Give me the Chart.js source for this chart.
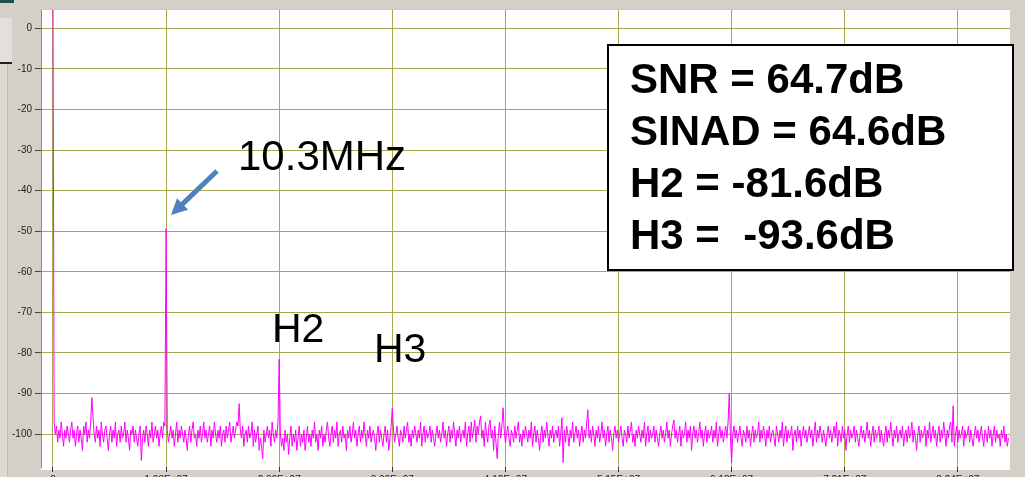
<!DOCTYPE html>
<html>
<head>
<meta charset="utf-8">
<title>FFT</title>
<script src="https://cdn.jsdelivr.net/npm/chart.js@4.4.1/dist/chart.umd.min.js"></script>
<style>
    html, body { margin: 0; padding: 0; background: #d4d0c8; }
    #wrap { position: relative; width: 1025px; height: 477px; overflow: hidden; }
    #wrap canvas { position: absolute; left: 0; top: 0; }
    .win-bar { position: absolute; left: 0; top: 0; width: 14px; height: 3px; background: #1f4f4f; }
    .win-tab { position: absolute; left: 0; top: 18px; width: 12px; height: 44px; background: #e2e0da; border-bottom: 2px solid #202020; }
    .win-strip { position: absolute; left: 0; top: 64px; width: 7px; height: 413px; background: #dcd9d2; border-right: 1px solid #bdb9b0; }
</style>
</head>
<body>
<div id="wrap">
    <div class="win-bar"></div>
    <div class="win-tab"></div>
    <div class="win-strip"></div>
    <canvas id="fftChart"></canvas>
</div>
<script>
// one FFT bin = 1/96 of the 10.3 MHz grid step
var binMHz = 10.3 / 96;

// noise floor per bin (dBFS), bins 0..811
var noiseDb = [
    -98, -97, -100, -98, -102, -99, -101, -97, -100, -103, -99, -101, -98, -100, -102, -99,
    -97, -101, -99, -103, -100, -98, -102, -99, -101, -104, -98, -100, -97, -102, -99, -101,
    -97, -91, -96, -100, -102, -98, -101, -99, -103, -97, -100, -102, -99, -98, -101, -104,
    -100, -98, -102, -99, -101, -97, -103, -100, -99, -102, -98, -101, -100, -97, -102, -99,
    -101, -104, -99, -100, -98, -102, -99, -101, -103, -100, -98, -106.5, -101, -99, -102, -98,
    -100, -103, -99, -101, -97, -102, -100, -98, -101, -99, -103, -100, -98, -101, -97, -98,
    -97, -99, -102, -100, -98, -101, -99, -103, -100, -97, -102, -99, -101, -98, -100, -102,
    -99, -101, -104, -100, -98, -102, -99, -97, -101, -100, -103, -99, -101, -98, -102, -100,
    -97, -101, -99, -102, -100, -98, -103, -99, -101, -97, -100, -102, -99, -101, -98, -103,
    -100, -99, -102, -98, -101, -99, -97, -102, -100, -98, -101, -99, -97, -98, -92.5, -99,
    -101, -98, -103, -100, -99, -102, -98, -101, -100, -97, -103, -99, -102, -100, -98, -104,
    -101, -103, -106, -99, -102, -100, -98, -101, -99, -103, -97, -100, -102, -99, -101, -97,
    -98, -100, -103, -101, -104, -99, -102, -100, -105, -101, -98, -103, -100, -102, -99, -104,
    -101, -98, -103, -100, -102, -99, -104, -101, -98, -102, -100, -103, -99, -101, -97, -102,
    -100, -104, -99, -101, -98, -103, -100, -102, -99, -97, -101, -103, -100, -98, -102, -99,
    -101, -97, -103, -100, -99, -102, -98, -101, -100, -104, -99, -101, -98, -102, -100, -97,
    -101, -99, -103, -100, -98, -102, -99, -101, -97, -100, -103, -99, -101, -98, -102, -100,
    -99, -101, -104, -100, -98, -102, -99, -101, -103, -100, -98, -102, -99, -104, -101, -98,
    -97, -99, -102, -100, -98, -101, -103, -99, -100, -102, -98, -101, -99, -97, -102, -100,
    -103, -99, -101, -98, -100, -102, -99, -101, -97, -103, -100, -98, -102, -99, -101, -100,
    -98, -102, -99, -101, -103, -100, -98, -101, -99, -102, -100, -97, -101, -99, -103, -100,
    -98, -102, -99, -101, -97, -100, -103, -99, -101, -98, -102, -100, -99, -101, -97, -103,
    -100, -98, -102, -97, -101, -99, -96.5, -102, -98, -100, -97, -95.5, -101, -99, -103, -97,
    -100, -102, -98, -96.5, -101, -99, -104, -98, -102, -106, -100, -97, -101, -98, -93.5, -99,
    -102, -100, -98, -101, -103, -99, -100, -102, -98, -101, -99, -97, -102, -100, -103, -99,
    -101, -98, -100, -102, -99, -101, -97, -103, -100, -98, -102, -99, -101, -104, -100, -98,
    -102, -99, -101, -97, -100, -103, -99, -101, -98, -102, -100, -99, -101, -98, -103, -100,
    -96, -107, -99, -102, -98, -100, -103, -99, -101, -97, -102, -100, -98, -101, -99, -103,
    -100, -98, -102, -99, -101, -97, -94, -101, -99, -102, -98, -100, -103, -99, -101, -98,
    -102, -100, -97, -101, -99, -103, -100, -98, -102, -99, -101, -104, -100, -98, -101, -99,
    -102, -100, -98, -101, -103, -99, -100, -102, -98, -101, -99, -97, -102, -100, -103, -99,
    -101, -98, -100, -102, -99, -101, -97, -103, -100, -98, -102, -99, -101, -100, -98, -102,
    -99, -101, -103, -100, -98, -101, -99, -102, -100, -97, -101, -99, -103, -100, -98, -96.5,
    -101, -99, -102, -100, -98, -103, -99, -101, -100, -97, -102, -99, -101, -98, -104, -100,
    -98, -101, -99, -102, -100, -97, -101, -99, -103, -100, -98, -102, -99, -101, -100, -98,
    -102, -99, -101, -97, -103, -100, -98, -101, -99, -102, -100, -98, -101, -97, -90, -101,
    -107, -100, -98, -101, -99, -102, -100, -98, -101, -103, -99, -100, -102, -98, -101, -99,
    -103, -100, -98, -102, -99, -101, -100, -97, -102, -99, -101, -98, -100, -103, -99, -101,
    -98, -102, -100, -99, -101, -103, -98, -100, -102, -99, -101, -97, -103, -100, -98, -102,
    -99, -101, -100, -98, -104, -100, -99, -102, -98, -101, -99, -103, -100, -98, -101, -99,
    -102, -100, -98, -101, -99, -103, -100, -97, -102, -99, -101, -98, -100, -102, -99, -101,
    -103, -100, -98, -101, -99, -102, -100, -98, -101, -97, -103, -99, -100, -102, -98, -101,
    -99, -104, -100, -98, -102, -99, -101, -100, -98, -102, -99, -101, -103, -100, -98, -101,
    -99, -102, -100, -97, -101, -99, -103, -100, -98, -102, -99, -101, -100, -98, -102, -99,
    -101, -103, -100, -98, -102, -99, -101, -97, -100, -103, -99, -101, -98, -102, -100, -99,
    -101, -98, -103, -100, -99, -102, -98, -101, -100, -97, -102, -99, -101, -104, -100, -98,
    -102, -99, -101, -100, -98, -103, -99, -101, -97, -102, -100, -98, -101, -99, -103, -100,
    -98, -102, -99, -101, -97, -100, -103, -99, -101, -98, -97, -102, -93, -103, -100, -98,
    -102, -99, -101, -100, -98, -103, -99, -101, -100, -98, -102, -99, -101, -103, -100, -98,
    -101, -99, -102, -100, -98, -101, -103, -99, -100, -102, -98, -101, -99, -103, -100, -98,
    -102, -99, -101, -100, -103, -99, -101, -98, -102, -100, -103, -101
];

// DC, fundamental, 2nd and 3rd harmonic
var peakBins = [0, 96, 192, 288];
var peakDb = [8, -49.4, -81.6, -93.6];

var freqTicks = [0, 10.3, 20.6, 30.9, 41.2, 51.5, 61.8, 72.1, 82.4];
var freqLabels = ['0', '1.03E+07', '2.06E+07', '3.09E+07', '4.12E+07', '5.15E+07', '6.18E+07', '7.21E+07', '8.24E+07'];
var levelTicks = [0, -10, -20, -30, -40, -50, -60, -70, -80, -90, -100];

var statLines = ['SNR = 64.7dB', 'SINAD = 64.6dB', 'H2 = -81.6dB', 'H3 =  -93.6dB'];

document.addEventListener('DOMContentLoaded', function () {
    var spectrum = noiseDb.map(function (db, i) {
        var k = peakBins.indexOf(i);
        return { x: i * binMHz, y: k >= 0 ? peakDb[k] : db };
    });

    var gridColor = '#a8a850';
    var font = '"Liberation Sans", Arial, sans-serif';

    var plotBackground = {
        id: 'plotBackground',
        beforeDraw: function (chart) {
            var a = chart.chartArea, c = chart.ctx;
            c.save();
            c.fillStyle = '#ffffff';
            c.fillRect(a.left, a.top, a.right - a.left, a.bottom - a.top + 3);
            c.restore();
        }
    };

    function arrow(c, x1, y1, x2, y2) {
        var dx = x2 - x1, dy = y2 - y1, len = Math.sqrt(dx * dx + dy * dy);
        var ux = dx / len, uy = dy / len, nx = -uy, ny = ux;
        var head = 16, half = 8;
        var bx = x2 - ux * head, by = y2 - uy * head;
        c.strokeStyle = '#4f81bd';
        c.fillStyle = '#4f81bd';
        c.lineWidth = 5;
        c.beginPath();
        c.moveTo(x1, y1);
        c.lineTo(bx + ux * 2, by + uy * 2);
        c.stroke();
        c.beginPath();
        c.moveTo(x2, y2);
        c.lineTo(bx + nx * half, by + ny * half);
        c.lineTo(bx - nx * half, by - ny * half);
        c.closePath();
        c.fill();
    }

    var notes = {
        id: 'notes',
        afterDraw: function (chart) {
            var a = chart.chartArea, c = chart.ctx;
            c.save();
            // frame top edge
            c.strokeStyle = '#c8c8c8';
            c.lineWidth = 1;
            c.beginPath();
            c.moveTo(a.left, a.top + 0.5);
            c.lineTo(a.right, a.top + 0.5);
            c.stroke();

            c.fillStyle = '#000';
            c.textBaseline = 'alphabetic';
            c.font = '42px ' + font;
            c.fillText('10.3MHz', 238, 170);
            c.font = '41px ' + font;
            c.fillText('H2', 272, 342);
            c.fillText('H3', 374, 362);

            arrow(c, 217, 171, 171, 215);

            // results box
            c.fillStyle = '#fff';
            c.fillRect(607, 44, 407, 227);
            c.strokeStyle = '#000';
            c.lineWidth = 2;
            c.strokeRect(608, 45, 405, 225);
            c.fillStyle = '#000';
            c.font = 'bold 42px ' + font;
            statLines.forEach(function (t, i) {
                c.fillText(t, 630, 93 + i * 52);
            });
            c.restore();
        }
    };

    var ctx = document.getElementById('fftChart').getContext('2d');
    new Chart(ctx, {
        type: 'line',
        data: {
            datasets: [{
                data: spectrum,
                borderColor: '#ff00ff',
                borderWidth: 1,
                pointRadius: 0,
                tension: 0
            }]
        },
        options: {
            responsive: true,
            maintainAspectRatio: false,
            animation: false,
            events: [],
            layout: { padding: { left: 0, top: 8, right: 15, bottom: 0 } },
            plugins: { legend: { display: false }, tooltip: { enabled: false } },
            scales: {
                x: {
                    type: 'linear',
                    min: -1.09,
                    max: 87.15,
                    afterBuildTicks: function (axis) {
                        axis.ticks = freqTicks.map(function (v) { return { value: v }; });
                    },
                    afterFit: function (axis) { axis.height = 10; },
                    grid: { color: gridColor, tickColor: '#333', tickLength: 5 },
                    border: { display: false },
                    ticks: {
                        autoSkip: false,
                        maxRotation: 0,
                        padding: 2,
                        color: '#222',
                        font: { family: font, size: 10 },
                        callback: function (v, i) { return freqLabels[i]; }
                    }
                },
                y: {
                    min: -108.1,
                    max: 4.75,
                    afterBuildTicks: function (axis) {
                        axis.ticks = levelTicks.map(function (v) { return { value: v }; });
                    },
                    afterFit: function (axis) { axis.width = 41; },
                    grid: { color: gridColor, tickColor: '#444', tickLength: 6 },
                    border: { color: '#8a8a8a' },
                    ticks: {
                        padding: 3,
                        color: '#222',
                        font: { family: font, size: 10 },
                        callback: function (v) { return String(v); }
                    }
                }
            }
        },
        plugins: [plotBackground, notes]
    });
});
</script>
</body>
</html>
